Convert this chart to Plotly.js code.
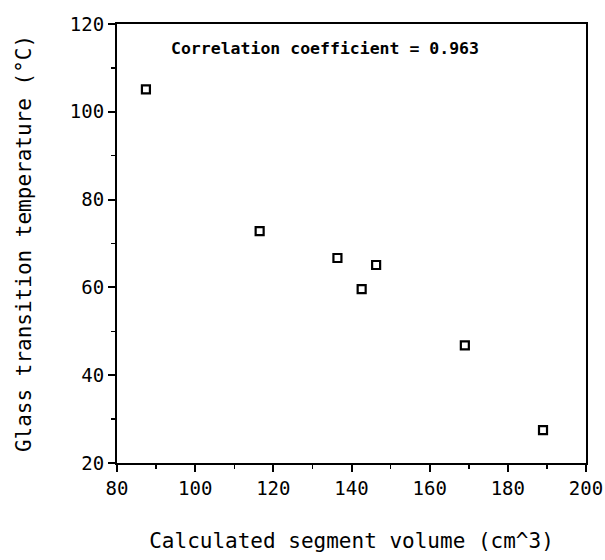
<!DOCTYPE html>
<html>
<head>
<meta charset="utf-8">
<script src="https://cdn.plot.ly/plotly-3.0.1.min.js"></script>
<style>html,body{margin:0;padding:0;background:#fff;}#chart{width:605px;height:560px;}</style>
</head>
<body>
<div id="chart"></div>
<script>
var segmentVolume = [87.4, 116.5, 136.4, 142.6, 146.3, 169.0, 189.0];
var glassTransition = [105.1, 72.8, 66.7, 59.6, 65.1, 46.8, 27.5];
var xTickVals = [80, 100, 120, 140, 160, 180, 200];
var yTickVals = [20, 40, 60, 80, 100, 120];
var correlationText = "Correlation coefficient = 0.963";

var fontFam = "DejaVu Sans Mono, Liberation Mono, monospace";

var trace = {
  x: segmentVolume,
  y: glassTransition,
  type: "scatter",
  mode: "markers",
  marker: {symbol: "square-open", size: 8, color: "#000", line: {width: 2.2, color: "#000"}},
  hoverinfo: "x+y"
};

var axisCommon = {
  showline: true, mirror: true, linecolor: "#000", linewidth: 2,
  showgrid: false, zeroline: false,
  ticks: "outside", ticklen: 7, tickwidth: 2, tickcolor: "#000",
  tickfont: {family: fontFam, size: 19, color: "#000"},
  minor: {ticks: "outside", ticklen: 4, tickwidth: 1.5, tickcolor: "#000", dtick: 10}
};

var layout = {
  width: 605, height: 560,
  margin: {l: 117, r: 19, t: 24, b: 97},
  paper_bgcolor: "#fff", plot_bgcolor: "#fff",
  showlegend: false,
  xaxis: Object.assign({}, axisCommon, {
    range: [80, 200], tickmode: "array", tickvals: xTickVals, ticktext: xTickVals.map(String),
    title: {text: "Calculated segment volume (cm^3)", font: {family: fontFam, size: 21, color: "#000"}, standoff: 36}
  }),
  yaxis: Object.assign({}, axisCommon, {
    range: [20, 120], tickmode: "array", tickvals: yTickVals, ticktext: yTickVals.map(String),
    title: {text: "Glass transition temperature (°C)", font: {family: fontFam, size: 21, color: "#000"}, standoff: 33}
  }),
  annotations: [{
    text: "<b>" + correlationText + "</b>",
    xref: "paper", yref: "paper", x: 0.11, y: 0.945, xanchor: "left", yanchor: "middle",
    showarrow: false, font: {family: fontFam, size: 16.5, color: "#000"}
  }]
};

Plotly.newPlot("chart", [trace], layout, {displayModeBar: false, staticPlot: true});
</script>
</body>
</html>
